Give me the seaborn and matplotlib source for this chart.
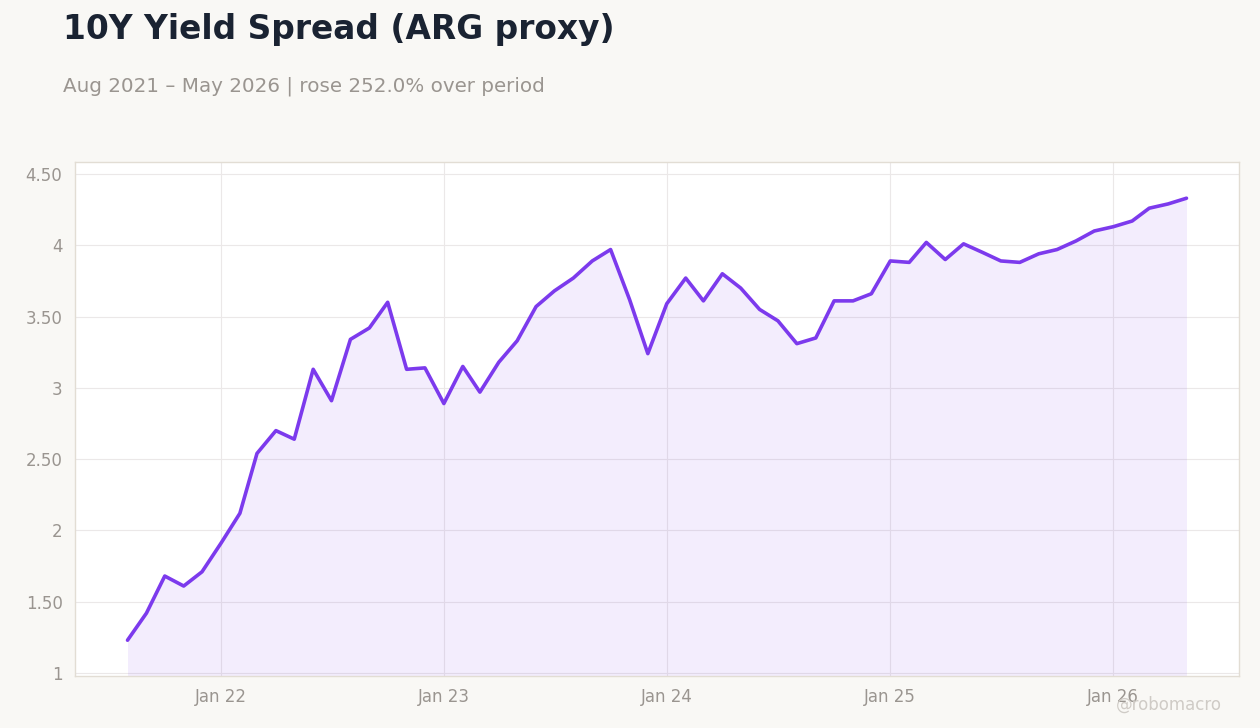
import pandas as pd
import numpy as np
import matplotlib
matplotlib.use("Agg")
import matplotlib.pyplot as plt
import matplotlib.dates as mdates
import seaborn as sns

# Datos mensuales (ago 2021 - may 2026)
fechas = pd.date_range("2021-08-01", "2026-05-01", freq="MS")
spread = [
    1.23, 1.42, 1.68, 1.61, 1.71, 1.91, 2.12, 2.54, 2.70, 2.64,
    3.13, 2.91, 3.34, 3.42, 3.60, 3.13, 3.14, 2.89, 3.15, 2.97,
    3.18, 3.33, 3.57, 3.68, 3.77, 3.89, 3.97, 3.62, 3.24, 3.59,
    3.77, 3.61, 3.80, 3.70, 3.55, 3.47, 3.31, 3.35, 3.61, 3.61,
    3.66, 3.89, 3.88, 4.02, 3.90, 4.01, 3.95, 3.89, 3.88, 3.94,
    3.97, 4.03, 4.10, 4.13, 4.17, 4.26, 4.29, 4.33,
]
y_ticks = [1, 1.5, 2, 2.5, 3, 3.5, 4, 4.5]
y_labels = ["1", "1.50", "2", "2.50", "3", "3.50", "4", "4.50"]

df = pd.DataFrame({"fecha": fechas, "spread": spread})

color = "#7c3aed"
fondo = "#f9f8f5"

sns.set_style("white")
plt.rcParams["font.family"] = ["DejaVu Sans"]

fig = plt.figure(figsize=(12.6, 7.28), dpi=100, facecolor=fondo)
ax = fig.add_axes([75 / 1260, 1 - 676 / 728, (1239 - 75) / 1260, (676 - 162) / 728])
ax.set_facecolor("white")

sns.lineplot(data=df, x="fecha", y="spread", ax=ax, color=color, linewidth=2.6)
ax.fill_between(df["fecha"], df["spread"], 0.979, color=color, alpha=0.09, linewidth=0)

pad = pd.Timedelta(days=86)
ax.set_xlim(fechas[0] - pad, fechas[-1] + pad)
ax.set_ylim(0.979, 4.584)

ax.set_yticks(y_ticks)
ax.set_yticklabels(y_labels)
ax.xaxis.set_major_locator(mdates.YearLocator(month=1))
ax.xaxis.set_major_formatter(mdates.DateFormatter("Jan %y"))

ax.grid(True, color="#ebe8e8", linewidth=0.8)
ax.set_axisbelow(True)
for s in ax.spines.values():
    s.set_color("#e2ddd4")
    s.set_linewidth(1)
ax.tick_params(axis="both", colors="#9a9590", labelsize=12, length=4, width=0.8, pad=5)
ax.tick_params(axis="x", pad=5)
ax.set_xlabel("")
ax.set_ylabel("")

fig.text(63 / 1260, 1 - 30 / 728, "10Y Yield Spread (ARG proxy)", fontsize=23.7,
         fontweight="bold", color="#1a2332", va="center", ha="left")
fig.text(63 / 1260, 1 - 86 / 728, "Aug 2021 \u2013 May 2026 | rose 252.0% over period",
         fontsize=14.3, color="#9a9590", va="center", ha="left")
fig.text(1222 / 1260, 1 - 705 / 728, "@robomacro", fontsize=12, color="#cfcbc6",
         va="center", ha="right")

fig.savefig("out.png", dpi=100, facecolor=fondo)
